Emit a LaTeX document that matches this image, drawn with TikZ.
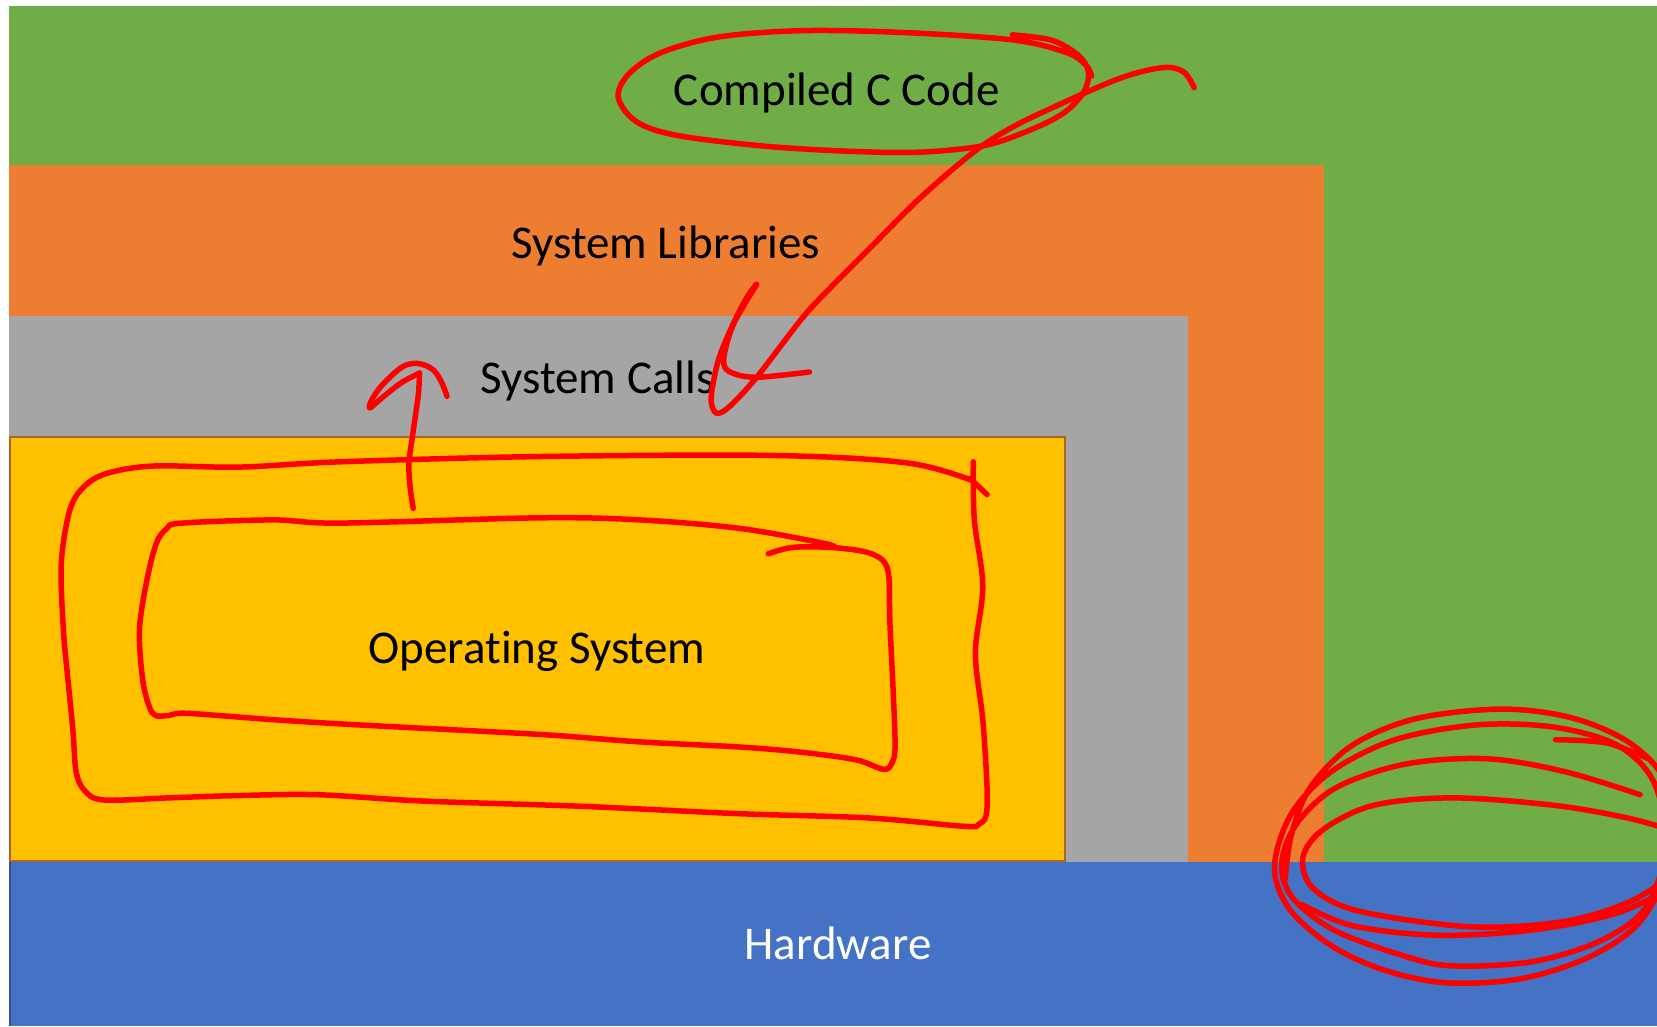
\documentclass[tikz,border=0pt]{standalone}
\usepackage{fontspec}
\setmainfont{Carlito}[Ligatures={NoCommon}]
\definecolor{lgreen}{HTML}{70AD47}
\definecolor{lorange}{HTML}{ED7D31}
\definecolor{lgray}{HTML}{A5A5A5}
\definecolor{lyellow}{HTML}{FFC000}
\definecolor{lyborder}{HTML}{A9652E}
\definecolor{lblue}{HTML}{4472C4}
\definecolor{lbborder}{HTML}{2F528F}
\definecolor{ink}{HTML}{FF0000}
\begin{document}
\begin{tikzpicture}[x=1.0568pt,y=-1.0568pt,
  lbl/.style={anchor=base,inner sep=0pt,font=\fontsize{47}{56}\selectfont},
  pen/.style={draw=ink,line width=5.5pt,line cap=round,line join=round},
  scrib/.style={pen,smooth,tension=0.55}]
\useasboundingbox (0,0) rectangle (1568,971);
\fill[white] (0,0) rectangle (1568,971);
% layers
\fill[lgreen] (8.5,5.7) rectangle (1568,815.7);
\fill[lorange] (8.5,156.1) rectangle (1252.8,815.7);
\fill[lgray] (8.5,298.9) rectangle (1124.1,815.7);
\fill[lblue] (8.5,815.7) rectangle (1568,971);
\draw[lbborder,line width=2pt] (9.5,815.7) -- (9.5,971);
\filldraw[fill=lyellow,draw=lyborder,line width=2pt] (9.5,413.5) rectangle (1008.2,814.7);
% labels
\node[lbl] (ccode) at (792,100) {Compiled C Code};
\node[lbl] (syslib) at (630,245) {System Libraries};
\node[lbl] (syscall) at (565.5,372) {System Calls};
\node[lbl] (os) at (508,628) {Operating System};
\node[lbl,text=white] (hw) at (793,908) {Hardware};
% red ink
\begin{scope}
\clip (0,0) rectangle (1568,971);
% oval round Compiled C Code
\draw[scrib] plot coordinates {(958,33) (995,38) (1020,52) (1030,68) (1025,88) (1005,108) (970,125) (930,138) (870,144) (800,143) (720,138) (640,128) (602,115) (585,92) (595,70) (625,50) (680,35) (760,29) (860,31) (960,38) (1010,50) (1028,62) (1033,72)};
% long arrow down to System Calls
\draw[scrib] plot coordinates {(1130,83) (1120,68) (1100,64) (1060,74) (1000,100) (955,122) (920,145) (870,188) (820,238) (790,268) (760,300) (716,357) (690,385) (678,391) (673,380) (675,362) (681,337) (694,306) (707,281) (716,269) (705,287) (694,307) (687,328) (685,345) (693,353) (716,357) (766,352)};
% up arrow
\draw[scrib] plot coordinates {(391,481) (388,460) (387,438) (390,415) (393,394) (396,372) (397,353)};
\draw[scrib] plot coordinates {(397,353) (380,362) (362,376) (350,386) (352,378) (362,364) (381,347) (396,344) (410,350) (418,362) (423,375)};
% inner loop
\draw[scrib] plot coordinates {(727,524) (750,518) (785,518) (818,522) (835,530) (841,545) (842,587) (845,650) (847,706) (844,722) (836,728) (810,719) (760,712) (702,707) (605,702) (511,695) (340,686) (258,681) (177,675) (160,677) (147,677) (141,668) (135,643) (132,596) (139,549) (148,514) (158,500) (172,495) (259,492) (322,495) (511,490) (606,492) (700,500) (779,514) (790,518)};
% outer loop
\draw[scrib] plot coordinates {(921,437) (922,492) (930,555) (923,618) (930,681) (934,745) (933,772) (926,780) (913,782) (822,774) (700,770) (551,763) (400,758) (300,752) (219,753) (160,755) (98,757) (80,748) (72,730) (69,691) (64,640) (60,596) (58,533) (66,483) (79,461) (101,448) (145,441) (227,442) (322,437) (511,432) (732,431) (858,438) (918,454)};
\draw[pen] (918,453) -- (934,468);
% scribble round the corner of Hardware
\draw[scrib] plot coordinates {(1552,752) (1480,730) (1407,718) (1330,723) (1265,745) (1228,778) (1213,815) (1222,848) (1262,880) (1330,905) (1375,914) (1450,910) (1515,890) (1558,858) (1576,800) (1565,740) (1530,705) (1470,688) (1397,686) (1320,700) (1260,730) (1222,770) (1206,820) (1220,860) (1260,895) (1310,918) (1369,930) (1440,926) (1505,905) (1552,872) (1580,815) (1578,745) (1545,705) (1490,680) (1422,671) (1340,680) (1280,705) (1240,745) (1222,790) (1216,833)};
\draw[scrib] plot coordinates {(1590,788) (1540,774) (1470,762) (1375,755) (1300,762) (1252,785) (1233,811) (1242,840) (1285,862) (1391,877) (1480,872) (1545,852) (1590,822)};
\draw[scrib] plot coordinates {(1590,836) (1530,864) (1450,880) (1360,885) (1280,876) (1232,856)};
\draw[scrib] plot coordinates {(1472,700) (1520,703) (1560,718)};
\end{scope}
\end{tikzpicture}
\end{document}
